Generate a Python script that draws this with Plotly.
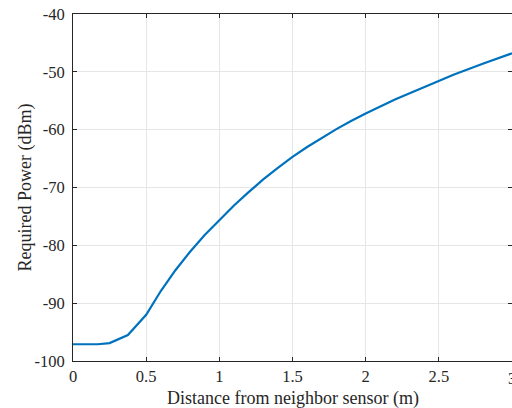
import plotly.graph_objects as go

distance_m = [0, 0.17, 0.25, 0.375, 0.5, 0.6, 0.7, 0.8, 0.9, 1.0, 1.1, 1.2, 1.3, 1.4,
              1.5, 1.6, 1.7, 1.8, 1.9, 2.0, 2.2, 2.4, 2.6, 2.8, 3.0]
required_power_dbm = [-97.1, -97.1, -96.9, -95.5, -92.0, -87.9, -84.3, -81.1, -78.2, -75.6,
                      -73.1, -70.8, -68.6, -66.6, -64.7, -63.0, -61.4, -59.9, -58.5, -57.2,
                      -54.8, -52.6, -50.5, -48.6, -46.8]

x_tickvals = [0, 0.5, 1, 1.5, 2, 2.5, 3]
x_ticktext = ["0", "0.5", "1", "1.5", "2", "2.5", "3"]
y_tickvals = [-100, -90, -80, -70, -60, -50, -40]
y_ticktext = ["-100", "-90", "-80", "-70", "-60", "-50", "-40"]
x_title = "Distance from neighbor sensor (m)"
y_title = "Required Power (dBm)"

axis_col = "#262626"
grid_col = "#e6e6e6"
font_family = "Times New Roman, Liberation Serif, serif"

fig = go.Figure()
fig.add_trace(go.Scatter(x=distance_m, y=required_power_dbm, mode="lines",
                         line=dict(color="#0072BD", width=2.2),
                         showlegend=False, hoverinfo="skip"))

fig.update_layout(
    width=512, height=408,
    margin=dict(l=73, r=0, t=14, b=47, autoexpand=False),
    paper_bgcolor="white", plot_bgcolor="white",
    font=dict(family=font_family, size=16.5, color=axis_col),
)
fig.update_xaxes(
    range=[0, 3], tickvals=x_tickvals, ticktext=x_ticktext, automargin=False,
    showgrid=True, gridcolor=grid_col, gridwidth=1,
    showline=True, linecolor=axis_col, linewidth=1, mirror="ticks",
    ticks="inside", ticklen=4, tickcolor=axis_col, zeroline=False,
    tickfont=dict(family=font_family, size=16.5, color=axis_col),
)
fig.update_yaxes(
    range=[-100, -40], tickvals=y_tickvals, ticktext=y_ticktext, automargin=False,
    showgrid=True, gridcolor=grid_col, gridwidth=1,
    showline=True, linecolor=axis_col, linewidth=1, mirror="ticks",
    ticks="inside", ticklen=4, tickcolor=axis_col, zeroline=False,
    ticklabelstandoff=4,
    tickfont=dict(family=font_family, size=16.5, color=axis_col),
)

# axis titles
fig.add_annotation(text=x_title, xref="paper", yref="paper", x=0.5, y=0,
                   xanchor="center", yanchor="middle", yshift=-37, showarrow=False,
                   font=dict(family=font_family, size=18, color=axis_col))
fig.add_annotation(text=y_title, xref="paper", yref="paper", x=0, y=0.5,
                   xanchor="center", yanchor="middle", xshift=-48, textangle=-90,
                   showarrow=False,
                   font=dict(family=font_family, size=18, color=axis_col))
# last x tick label, cut by the right edge as in the reference
fig.add_annotation(text=x_ticktext[-1], x=x_tickvals[-1], xref="x", yref="paper", y=0,
                   xanchor="center", yanchor="top", yshift=-6, showarrow=False,
                   font=dict(family=font_family, size=16.5, color=axis_col))

fig.write_html("out.html", config={"displayModeBar": False},
               post_script="document.body.style.margin='0';document.body.style.overflow='hidden';")
